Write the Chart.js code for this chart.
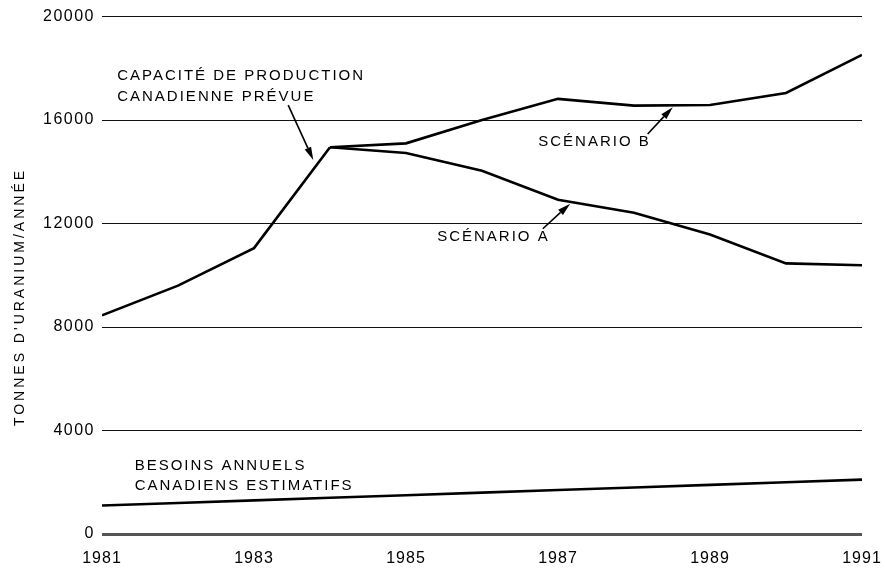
<!DOCTYPE html>
<html>
<head>
<meta charset="utf-8">
<script src="https://cdn.jsdelivr.net/npm/chart.js@4/dist/chart.umd.min.js"></script>
<style>
  html, body { margin: 0; padding: 0; background: #fff; }
  #wrap { width: 885px; height: 569px; }
</style>
</head>
<body>
<div id="wrap"><canvas id="graphic"></canvas></div>
<script>
const years = [1981, 1982, 1983, 1984, 1985, 1986, 1987, 1988, 1989, 1990, 1991];
const capacite = [8450, 9600, 11050, 14950, null, null, null, null, null, null, null];
const scenarioA = [null, null, null, 14950, 14730, 14040, 12920, 12420, 11580, 10460, 10390];
const scenarioB = [null, null, null, 14950, 15100, 16000, 16820, 16560, 16580, 17050, 18520];
const besoins = [1100, 1200, 1300, 1400, 1500, 1600, 1700, 1800, 1900, 2000, 2100];

const yTicks = [0, 4000, 8000, 12000, 16000, 20000];
const yTitle = "TONNES D'URANIUM/ANNÉE";

// labels placed in data units (year, tonnes)
const notes = [
	{ x: 1981.2, y: 17700, lines: ['CAPACITÉ DE PRODUCTION', 'CANADIENNE PRÉVUE'] },
	{ x: 1985.41, y: 11500, lines: ['SCÉNARIO A'] },
	{ x: 1986.74, y: 15150, lines: ['SCÉNARIO B'] },
	{ x: 1981.43, y: 2650, lines: ['BESOINS ANNUELS', 'CANADIENS ESTIMATIFS'] }
];
const arrows = [
	{ from: [1983.45, 16580], to: [1983.78, 14460] },
	{ from: [1986.8, 11800], to: [1987.16, 12770] },
	{ from: [1988.18, 15460], to: [1988.51, 16500] }
];

const FONT = "'Liberation Sans', Arial, Helvetica, sans-serif";

function toPoints(values) {
	return years.map((x, i) => ({ x: x, y: values[i] }));
}

function line(values) {
	return {
		data: toPoints(values),
		borderColor: '#000',
		borderWidth: 2.6,
		pointRadius: 0,
		fill: false,
		tension: 0,
		spanGaps: false
	};
}

// canvas letterSpacing for the tick labels
function spaceLabels(scale, spacing) {
	if (scale._spaced) return;
	const orig = scale.drawLabels;
	scale.drawLabels = function (area) {
		const ctx = this.ctx;
		ctx.save();
		ctx.letterSpacing = spacing;
		orig.call(this, area);
		ctx.restore();
	};
	scale._spaced = true;
}

const annotations = {
	id: 'annotations',
	afterLayout(chart) {
		spaceLabels(chart.scales.y, '1.5px');
		spaceLabels(chart.scales.x, '1px');
	},
	afterDatasetsDraw(chart) {
		const { ctx, scales: { x, y } } = chart;
		ctx.save();
		ctx.fillStyle = '#000';
		ctx.strokeStyle = '#000';
		ctx.font = '15px ' + FONT;
		ctx.letterSpacing = '2px';
		ctx.textAlign = 'left';
		ctx.textBaseline = 'middle';
		notes.forEach(n => {
			n.lines.forEach((t, i) => {
				ctx.fillText(t, x.getPixelForValue(n.x), y.getPixelForValue(n.y) + i * 20.5);
			});
		});

		arrows.forEach(a => {
			const x1 = x.getPixelForValue(a.from[0]), y1 = y.getPixelForValue(a.from[1]);
			const x2 = x.getPixelForValue(a.to[0]), y2 = y.getPixelForValue(a.to[1]);
			const ang = Math.atan2(y2 - y1, x2 - x1);
			const len = 13, half = 3.5;
			const bx = x2 - Math.cos(ang) * len, by = y2 - Math.sin(ang) * len;
			ctx.lineWidth = 1.6;
			ctx.beginPath();
			ctx.moveTo(x1, y1);
			ctx.lineTo(bx, by);
			ctx.stroke();
			ctx.beginPath();
			ctx.moveTo(x2, y2);
			ctx.lineTo(bx + Math.sin(ang) * half, by - Math.cos(ang) * half);
			ctx.lineTo(bx - Math.sin(ang) * half, by + Math.cos(ang) * half);
			ctx.closePath();
			ctx.fill();
		});

		// axis title
		ctx.font = '14px ' + FONT;
		ctx.letterSpacing = '3px';
		ctx.textAlign = 'center';
		ctx.translate(20, 297);
		ctx.rotate(-Math.PI / 2);
		ctx.fillText(yTitle, 0, 0);
		ctx.restore();
	}
};

new Chart(graphic, {
	type: 'line',
	data: {
		datasets: [line(capacite), line(scenarioA), line(scenarioB), line(besoins)]
	},
	options: {
		responsive: true,
		maintainAspectRatio: false,
		animation: false,
		layout: { padding: { top: 14, right: 23, left: 0, bottom: 0 } },
		plugins: { legend: { display: false }, tooltip: { enabled: false } },
		scales: {
			x: {
				type: 'linear',
				min: 1981,
				max: 1991,
				afterFit(s) { s.height = 35; s.paddingRight = 0; s.paddingLeft = 0; },
				ticks: {
					stepSize: 2,
					color: '#000',
					padding: 15,
					maxRotation: 0,
					font: { family: FONT, size: 16 },
					callback: v => String(v)
				},
				grid: { display: false, drawTicks: false },
				border: { display: false }
			},
			y: {
				min: 0,
				max: 20000,
				afterFit(s) { s.width = 102; },
				afterBuildTicks(s) { s.ticks = yTicks.map(v => ({ value: v })); },
				ticks: {
					color: '#000',
					padding: 7,
					font: { family: FONT, size: 16 },
					callback: v => String(v)
				},
				grid: {
					color: ctx => ctx.tick && ctx.tick.value === 0 ? '#555' : '#111',
					lineWidth: ctx => ctx.tick && ctx.tick.value === 0 ? 3 : 1,
					drawTicks: false
				},
				border: { display: false }
			}
		}
	},
	plugins: [annotations]
});
</script>
</body>
</html>
